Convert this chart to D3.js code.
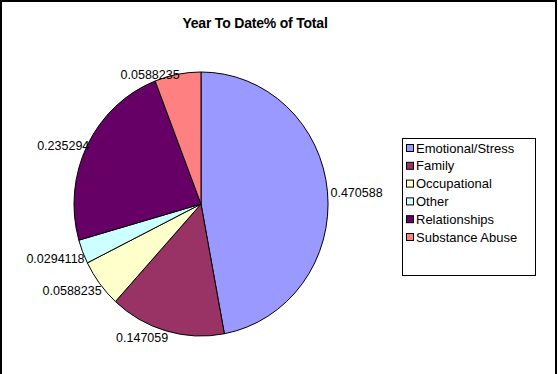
<!DOCTYPE html>
<html>
<head>
<meta charset="utf-8">
<script src="https://cdn.jsdelivr.net/npm/d3@7"></script>
<style>
  body { margin: 0; background: #fff; }
  svg { display: block; font-family: "Liberation Sans", Arial, sans-serif; }
</style>
</head>
<body>
<script>
// data
let categories = ["Emotional/Stress", "Family", "Occupational", "Other", "Relationships", "Substance Abuse"];
let values = [0.470588, 0.147059, 0.0588235, 0.0294118, 0.235294, 0.0588235];
let labels = ["0.470588", "0.147059", "0.0588235", "0.0294118", "0.235294", "0.0588235"];
let colors = ["#9999ff", "#993366", "#ffffcc", "#ccffff", "#660066", "#ff8080"];

let width = 558,
    height = 374;

let svg = d3.select("body")
            .append("svg")
            .attr("width", width)
            .attr("height", height);

// outer frame (bottom is cut off in the picture)
svg.append("path")
    .attr("d", "M1," + height + " L1,1 L556,1 L556," + height)
    .attr("fill", "none")
    .attr("stroke", "#000")
    .attr("stroke-width", 2);

svg.append("text")
    .attr("x", 255)
    .attr("y", 28)
    .attr("text-anchor", "middle")
    .style("font-weight", "bold")
    .style("font-size", "14px")
    .style("letter-spacing", "-0.2px")
    .text("Year To Date% of Total");

let cx = 201, cy = 204, rx = 127, ry = 132;

let pie = d3.pie().sort(null).value(d => d.v);
let slices = pie(values.map((v, i) => ({v: v, i: i})));

let arc = d3.arc().innerRadius(0).outerRadius(1);

let g = svg.append("g")
    .attr("transform", "translate(" + cx + "," + cy + ") scale(" + rx + "," + ry + ")");

g.selectAll("path")
    .data(slices)
    .enter()
    .append("path")
    .attr("d", arc)
    .attr("fill", d => colors[d.data.i])
    .attr("stroke", "#000")
    .attr("stroke-width", 1)
    .attr("vector-effect", "non-scaling-stroke");

// labels outside the pie, next to the slice middle
svg.selectAll(".lbl")
    .data(slices)
    .enter()
    .append("text")
    .attr("class", "lbl")
    .attr("x", function(d){
        let a = (d.startAngle + d.endAngle) / 2;
        let s = Math.sin(a);
        return cx + rx * s + (s > 0 ? 3 : 2);
    })
    .attr("y", function(d){
        let a = (d.startAngle + d.endAngle) / 2;
        let c = Math.cos(a);
        return cy - ry * c + (c < 0 ? 7 : 1) + 4;
    })
    .attr("text-anchor", function(d){
        let a = (d.startAngle + d.endAngle) / 2;
        return Math.sin(a) > 0 ? "start" : "end";
    })
    .style("font-size", "12.5px")
    .text((d, i) => labels[i]);

// legend
let legend = svg.append("g");

legend.append("rect")
    .attr("x", 402.5)
    .attr("y", 138.5)
    .attr("width", 133)
    .attr("height", 137)
    .attr("fill", "#fff")
    .attr("stroke", "#000")
    .attr("stroke-width", 1);

let rows = legend.selectAll(".row")
    .data(categories)
    .enter()
    .append("g")
    .attr("class", "row")
    .attr("transform", (d, i) => "translate(0," + (148 + i * 17.8) + ")");

rows.append("rect")
    .attr("x", 406.5)
    .attr("y", -3.5)
    .attr("width", 7)
    .attr("height", 7)
    .attr("fill", (d, i) => colors[i])
    .attr("stroke", "#000")
    .attr("stroke-width", 1);

rows.append("text")
    .attr("x", 416)
    .attr("y", 4.5)
    .style("font-size", "13px")
    .text(d => d);
</script>
</body>
</html>
